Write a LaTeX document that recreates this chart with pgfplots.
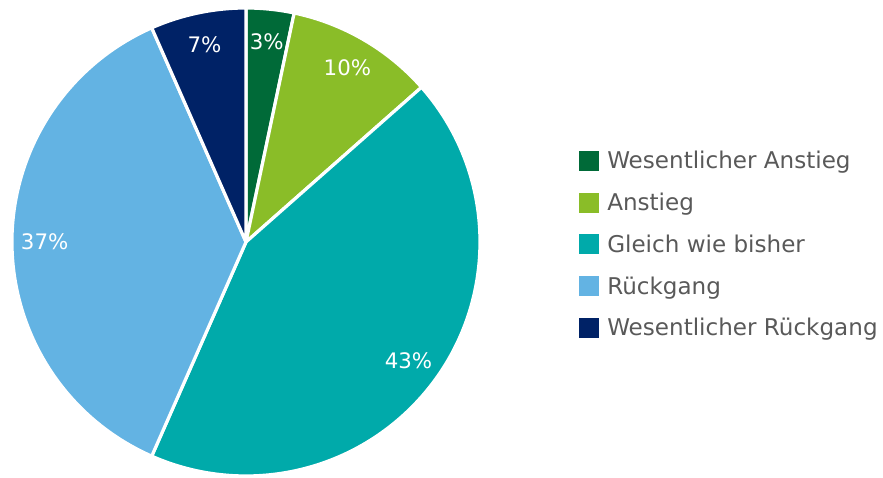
\documentclass[border=0pt]{standalone}
\usepackage{pgfplots}
\pgfplotsset{compat=1.18}
\usepackage{fontspec}
\setmainfont{DejaVu Sans}
\usetikzlibrary{calc}
\definecolor{cA}{RGB}{0,106,56}
\definecolor{cB}{RGB}{138,189,40}
\definecolor{cC}{RGB}{0,170,170}
\definecolor{cD}{RGB}{99,179,227}
\definecolor{cE}{RGB}{0,34,102}
\definecolor{legtext}{RGB}{89,89,89}
\newcommand{\labfont}{\fontsize{16}{19}\selectfont}
% #1 cumulative start (percent), #2 value (percent), #3 colour
\newcommand{\pieslice}[3]{%
  \pgfmathsetmacro{\sa}{90-3.6*#1}%
  \pgfmathsetmacro{\ea}{90-3.6*(#1+#2)}%
  \edef\temp{%
    \noexpand\filldraw[fill=#3,draw=white,line width=2.4pt,line join=round]
      (axis cs:246,236) -- ++(\sa:175.5pt)
      arc[start angle=\sa,end angle=\ea,radius=175.5pt] -- cycle;%
  }\temp%
}
\newcommand{\pielabel}[2]{%
  \pgfmathsetmacro{\ma}{90-3.6*(#1+#2/2)}%
  \pgfmathtruncatemacro{\lab}{round(#2)}%
  \edef\temp{%
    \noexpand\node[text=white,font=\noexpand\labfont,inner sep=0pt]
      at ($(axis cs:246,236)+(\ma:151pt)$) {\lab\noexpand\%};%
  }\temp%
}
\begin{document}
\begin{tikzpicture}
\begin{axis}[
  width=662.25pt, height=358.5pt, scale only axis,
  xmin=0, xmax=883, ymin=0, ymax=478,
  hide axis, clip=false,
  legend style={at={(axis cs:579,327.5)}, anchor=north west, draw=none, fill=none,
    font=\fontsize{17.3}{20}\selectfont, text=legtext, inner sep=0pt, row sep=16.4pt,
    nodes={inner sep=0pt}},
  legend cell align=left,
  /tikz/every odd column/.append style={column sep=6pt},
  legend image code/.code={\fill[#1,draw=none] (0pt,-7.5pt) rectangle (15pt,7.5pt);},
]
\addlegendimage{fill=cA}\addlegendentry{Wesentlicher Anstieg}
\addlegendimage{fill=cB}\addlegendentry{Anstieg}
\addlegendimage{fill=cC}\addlegendentry{Gleich wie bisher}
\addlegendimage{fill=cD}\addlegendentry{Rückgang}
\addlegendimage{fill=cE}\addlegendentry{Wesentlicher Rückgang}
\pieslice{0}{3.3}{cA}
\pieslice{3.3}{10.2}{cB}
\pieslice{13.5}{43.1}{cC}
\pieslice{56.6}{36.8}{cD}
\pieslice{93.4}{6.6}{cE}
\pielabel{0}{3.3}
\pielabel{3.3}{10.2}
\pielabel{13.5}{43.1}
\pielabel{56.6}{36.8}
\pielabel{93.4}{6.6}
\coordinate (bbsw) at (axis cs:0,0);
\coordinate (bbne) at (axis cs:883,478);
\end{axis}
\pgfresetboundingbox
\useasboundingbox (bbsw) rectangle (bbne);
\end{tikzpicture}
\end{document}
